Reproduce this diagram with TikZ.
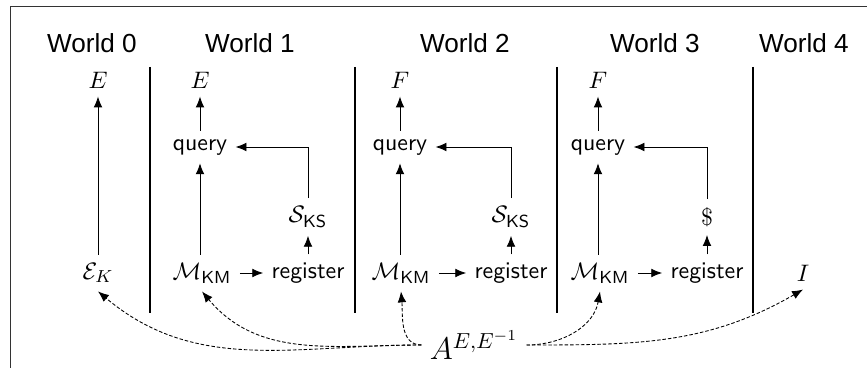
\documentclass[tikz,border=0pt,11pt]{standalone}
\usepackage{amsmath}
\usepackage{fontspec}
\newfontfamily\worldfont{Liberation Sans}
\usetikzlibrary{arrows.meta}
\usetikzlibrary{positioning}

\tikzset{
  world/.style={font=\worldfont\large},
  lbl/.style={font=\sffamily},
  sep/.style={line width=1.3pt},
  advlink/.style={->,dash pattern=on 1.6pt off 0.9pt},
}

\begin{document}
\begin{tikzpicture}[x=0.459pt,y=-0.459pt,>={Latex[length=5pt,width=4pt]}]
			% fix the frame of the picture
			\useasboundingbox (0,0) rectangle (867,368);
			\draw[black!80] (10,368) -- (10,6) -- (867,6);
			% world titles
			\node[world] (w0) at (92,43) {World 0};
			\node[world] (w1) at (250,43) {World 1};
			\node[world] (w2) at (465,43) {World 2};
			\node[world] (w3) at (655,43) {World 3};
			\node[world] (w4) at (804,43) {World 4};
			% separators
			\foreach \x in {150,355,557,753}
				\draw[sep] (\x,67) -- (\x,313);
			% world 0
			\node (e0) at (98,80) {$E$};
			\node (ek) at (98,273) {$\mathcal{E}_K$};
			\draw[->] (ek) -- (e0);
			% world 1
			\node (e1) at (200,80) {$E$};
			\node[lbl] (q1) at (200,147) {query};
			\node (m1) at (202,273) {$\mathcal{M}_{\textsf{KM}}$};
			\node[lbl] (r1) at (308,273) {register};
			\node (s1) at (308,217) {$\mathcal{S}_{\textsf{KS}}$};
			\draw[->] (q1) -- (e1);
			\draw[->] (m1.north -| q1) -- (q1);
			\draw[->] (m1) -- (r1);
			\draw[->] (r1) -- (s1);
			\draw[->] (s1) |- (q1);
			% world 2
			\node (f2) at (400,80) {$F$};
			\node[lbl] (q2) at (400,147) {query};
			\node (m2) at (401,273) {$\mathcal{M}_{\textsf{KM}}$};
			\node[lbl] (r2) at (511,273) {register};
			\node (s2) at (511,217) {$\mathcal{S}_{\textsf{KS}}$};
			\draw[->] (q2) -- (f2);
			\draw[->] (m2.north -| q2) -- (q2);
			\draw[->] (m2) -- (r2);
			\draw[->] (r2) -- (s2);
			\draw[->] (s2) |- (q2);
			% world 3
			\node (f3) at (598,80) {$F$};
			\node[lbl] (q3) at (598,147) {query};
			\node (m3) at (600,273) {$\mathcal{M}_{\textsf{KM}}$};
			\node[lbl] (r3) at (707,273) {register};
			\node (d3) at (707,217) {$\$$};
			\draw[->] (q3) -- (f3);
			\draw[->] (m3.north -| q3) -- (q3);
			\draw[->] (m3) -- (r3);
			\draw[->] (r3) -- (d3);
			\draw[->] (d3) |- (q3);
			% world 4
			\node (i4) at (803,273) {$I$};
			% adversary
			\node[font=\Large] (adv) at (474,345) {$A^{E,E^{-1}}$};
			\draw[advlink] (adv.west) to[out=180,in=-40] (ek.south);
			\draw[advlink] (adv.west) to[out=180,in=-50] (m1.south);
			\draw[advlink] (adv.west) to[out=180,in=-85] (m2.south);
			\draw[advlink] (adv.east) to[out=0,in=-100] (m3.south);
			\draw[advlink] (adv.east) to[out=0,in=-150] (i4.south);
\end{tikzpicture}
\end{document}
